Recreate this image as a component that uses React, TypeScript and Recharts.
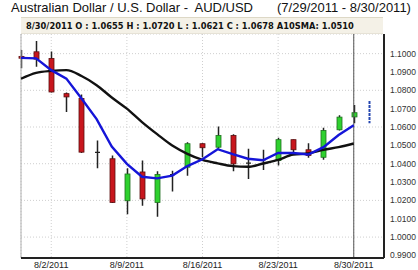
import React from "react";
import { ComposedChart, Bar, Line, XAxis, YAxis, CartesianGrid, ReferenceLine } from "recharts";

// AUD/USD daily candles, 7/29/2011 - 8/30/2011 (last slot is the projected range)
const dates = [
  "7/29/2011", "8/1/2011", "8/2/2011", "8/3/2011", "8/4/2011", "8/5/2011",
  "8/8/2011", "8/9/2011", "8/10/2011", "8/11/2011", "8/12/2011",
  "8/15/2011", "8/16/2011", "8/17/2011", "8/18/2011", "8/19/2011",
  "8/22/2011", "8/23/2011", "8/24/2011", "8/25/2011", "8/26/2011",
  "8/29/2011", "8/30/2011", "8/31/2011",
];
const opens = [1.0985, 1.101, 1.0974, 1.0782, 1.0755, 1.0465, 1.0427, 1.0198, 1.0355, 1.0189, 1.0337, 1.0381, 1.0509, 1.049, 1.0554, 1.04, 1.0419, 1.0417, 1.0531, 1.0476, 1.0435, 1.0585, 1.0655, null];
const highs = [1.102, 1.1069, 1.1011, 1.0788, 1.0777, 1.0527, 1.0445, 1.0375, 1.0417, 1.0359, 1.0362, 1.0517, 1.0512, 1.0603, 1.056, 1.0481, 1.0476, 1.0541, 1.0532, 1.0512, 1.0596, 1.0664, 1.072, 1.0742];
const lows = [1.092, 1.0928, 1.0788, 1.0682, 1.0459, 1.0375, 1.0186, 1.0125, 1.0171, 1.0111, 1.0249, 1.0335, 1.0435, 1.0481, 1.0359, 1.0317, 1.0366, 1.039, 1.0463, 1.0432, 1.0421, 1.0581, 1.0621, 1.0621];
const closes = [1.0975, 1.097, 1.0791, 1.0764, 1.0463, 1.0462, 1.0189, 1.0344, 1.0208, 1.0341, 1.0341, 1.0509, 1.0487, 1.0554, 1.0399, 1.0403, 1.0422, 1.0531, 1.0476, 1.0445, 1.0581, 1.0654, 1.0678, null];
const sma10 = [1.0863, 1.0895, 1.0906, 1.091, 1.0878, 1.0828, 1.0761, 1.07, 1.0627, 1.0561, 1.0499, 1.0454, 1.0421, 1.0402, 1.0387, 1.0383, 1.0401, 1.0421, 1.045, 1.0456, 1.0476, 1.049, 1.051, null];
const avgLine = [1.0977, 1.0974, 1.091, 1.0864, 1.0755, 1.0643, 1.0494, 1.0399, 1.0329, 1.032, 1.0335, 1.0387, 1.0424, 1.0479, 1.0452, 1.0427, 1.0419, 1.0459, 1.0458, 1.045, 1.049, 1.0556, 1.0609, null];
const priceTicks = [0.99, 1.0, 1.01, 1.02, 1.03, 1.04, 1.05, 1.06, 1.07, 1.08, 1.09, 1.1];
const dateTicks = [2, 7, 12, 17, 22];

const data = dates.map((d, i) => ({
  i,
  date: d,
  open: opens[i],
  high: highs[i],
  low: lows[i],
  close: closes[i],
  sma10: sma10[i],
  avg: avgLine[i],
  proj: opens[i] == null,
}));

const Candle = (props: any) => {
  const { x, y, width, height, payload } = props;
  if (!payload || x == null || y == null) return null;
  const top = Math.min(y, y + height);
  const h = Math.abs(height);
  const cx = Math.round(x + width / 2) + 0.5;
  const hi = payload.high;
  const lo = payload.low;
  const py = (v: number) => top + ((hi - v) / (hi - lo)) * h;

  if (payload.proj) {
    return (
      <line x1={cx} x2={cx} y1={top} y2={top + h} stroke="#2446b0" strokeWidth={2} strokeDasharray="3 1" />
    );
  }

  const yo = py(payload.open);
  const yc = py(payload.close);
  const bodyTop = Math.min(yo, yc);
  const bodyH = Math.abs(yc - yo);
  const up = payload.close >= payload.open;
  const doji = bodyH < 1.5;

  return (
    <g>
      <line x1={cx} x2={cx} y1={top} y2={top + h} stroke="#222" strokeWidth={1.5} />
      {doji ? (
        <line x1={cx - 2.5} x2={cx + 2.5} y1={yc} y2={yc} stroke="#222" strokeWidth={1.2} />
      ) : (
        <rect
          x={cx - 2.5}
          y={bodyTop}
          width={5}
          height={bodyH}
          fill={up ? "#2fd12f" : "#c8161d"}
          stroke={up ? "#1f6f1f" : "#5a1010"}
          strokeWidth={0.8}
        />
      )}
    </g>
  );
};

export default function App() {
  return (
    <div
      style={{
        position: "absolute",
        left: 0,
        top: 0,
        width: 418,
        height: 270,
        background: "#fff",
        overflow: "hidden",
        fontFamily: "'Liberation Sans', Arial, sans-serif",
      }}
    >
      <div style={{ position: "absolute", left: 11, top: 0, fontSize: 13, color: "#111", whiteSpace: "nowrap" }}>
        Australian Dollar / U.S. Dollar -&nbsp; AUD/USD
      </div>
      <div style={{ position: "absolute", left: 277, top: 0, fontSize: 13, color: "#111", whiteSpace: "nowrap" }}>
        (7/29/2011 - 8/30/2011)
      </div>

      <ComposedChart
        width={418}
        height={270}
        data={data}
        margin={{ top: 34, right: 0, left: 21, bottom: 0 }}
      >
        <CartesianGrid stroke="#cfcfcf" strokeDasharray="1 2" />
        <XAxis
          dataKey="i"
          type="number"
          domain={[0, 24]}
          ticks={dateTicks}
          tickFormatter={(v: number) => dates[v]}
          height={12}
          tickLine={false}
          tickSize={2}
          tickMargin={2}
          axisLine={{ stroke: "#222", strokeWidth: 2 }}
          tick={{ fontSize: 9, fill: "#222" }}
          interval={0}
        />
        <YAxis
          orientation="right"
          width={34}
          domain={[0.9886, 1.1107]}
          ticks={priceTicks}
          allowDataOverflow
          tickFormatter={(v: number) => v.toFixed(4)}
          tickLine={false}
          tickSize={4}
          tickMargin={2}
          axisLine={{ stroke: "#222", strokeWidth: 2 }}
          tick={{ fontSize: 8.5, fill: "#333" }}
        />
        <ReferenceLine x={0} stroke="#b0b0b0" />
        <ReferenceLine x={22} stroke="#555" />
        <Bar
          dataKey={(d: any) => [d.low, d.high]}
          barSize={5}
          shape={<Candle />}
          isAnimationActive={false}
        />
        <Line dataKey="sma10" type="monotone" stroke="#111" strokeWidth={2.4} dot={false} isAnimationActive={false} />
        <Line dataKey="avg" type="linear" stroke="#1515d8" strokeWidth={2.4} dot={false} isAnimationActive={false} />
      </ComposedChart>

      <div
        style={{
          position: "absolute",
          left: 21,
          top: 17,
          width: 362,
          height: 15,
          background: "#f4f1e7",
          borderTop: "1px solid #ddd8c6",
          borderBottom: "1px solid #e6e2d6",
        }}
      >
        <div
          style={{
            position: "absolute",
            left: 5,
            top: 3,
            fontFamily: "'DejaVu Sans', sans-serif",
            fontWeight: "bold",
            fontSize: 8.3,
            color: "#111",
            whiteSpace: "nowrap",
          }}
        >
          8/30/2011 O : 1.0655 H : 1.0720 L : 1.0621 C : 1.0678 A10SMA: 1.0510
        </div>
      </div>
    </div>
  );
}
